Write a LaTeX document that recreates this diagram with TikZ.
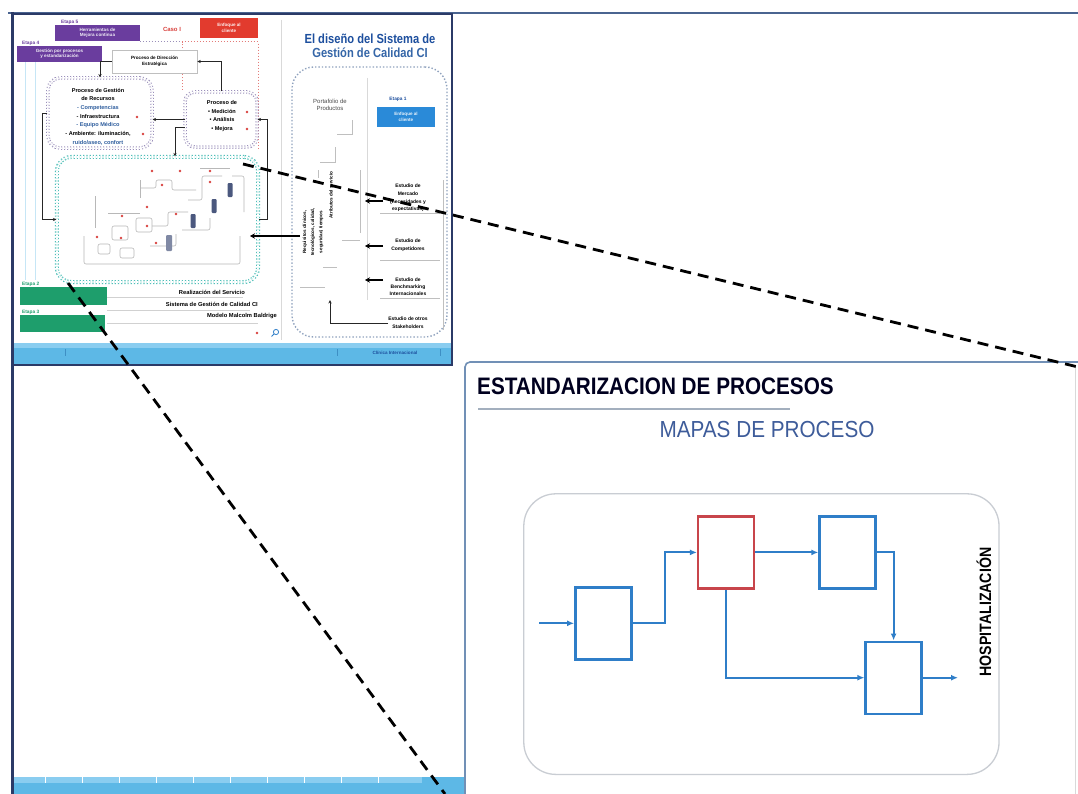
\documentclass[tikz,border=0pt]{standalone}
\usepackage{fontspec}
\setmainfont{Liberation Sans}
\usetikzlibrary{arrows.meta,calc}

\definecolor{navy}{HTML}{2B3A67}
\definecolor{slideline}{HTML}{4A6490}
\definecolor{purp}{HTML}{6A3D9E}
\definecolor{redbox}{HTML}{E23B2E}
\definecolor{grn}{HTML}{1E9E6C}
\definecolor{skyb}{HTML}{5DB8E6}
\definecolor{skyl}{HTML}{8ACDF0}
\definecolor{skyd}{HTML}{3E8FC4}
\definecolor{titleb}{HTML}{1D4F9E}
\definecolor{titleb2}{HTML}{3566A8}
\definecolor{blueb}{HTML}{2A8AD8}
\definecolor{itemb}{HTML}{2F5E9E}
\definecolor{tealdot}{HTML}{4DBFB8}
\definecolor{pgrey}{HTML}{9A8FBA}
\definecolor{dotgray}{HTML}{8FA2BE}
\definecolor{reddot}{HTML}{D9423E}
\definecolor{flowb}{HTML}{2F7EC8}
\definecolor{flowr}{HTML}{C8454B}
\definecolor{panelb}{HTML}{7190B6}
\definecolor{mapb}{HTML}{3E5C9A}
\definecolor{ruleg}{HTML}{A3AFBE}
\definecolor{roundg}{HTML}{C9CDD3}

\begin{document}
\begin{tikzpicture}[x=1bp,y=-1bp,
  tt/.style={font=\fontsize{4.6}{5.5}\selectfont\bfseries, inner sep=0pt, align=center},
  ts/.style={font=\fontsize{5.6}{8.7}\selectfont\bfseries, inner sep=0pt, align=center},
  lab/.style={font=\fontsize{4.8}{5.5}\selectfont\bfseries, inner sep=0pt},
  tharrow/.style={draw=black!85, line width=0.9bp, -{Stealth[length=3.5bp,width=3.2bp]}},
  bigarrow/.style={draw=black, line width=1.7bp, -{Stealth[length=5bp,width=5.5bp]}},
  rdot/.style={circle, fill=reddot, inner sep=0pt, minimum size=2.6bp},
  dblock/.style={fill=navy!85, rounded corners=1bp},
  fbox/.style={draw=flowb, line width=2.4bp, fill=white, minimum width=56bp, minimum height=72bp, inner sep=0pt},
  flow/.style={draw=flowb, line width=2.1bp, -{Latex[length=7bp,width=6bp]}},
  zoomline/.style={draw=black, line width=2.8bp, dash pattern=on 11bp off 7bp},
]
\useasboundingbox (0,0) rectangle (1078,794);
\fill[white] (0,0) rectangle (1078,794);

%--- slide frame and footer band
\draw[slideline, line width=1.4bp] (8,13) -- (1078,13);
\fill[skyb] (13.5,777) rectangle (465,794);
\fill[skyl] (13.5,777) rectangle (422,782.5);
\foreach \x in {45,82,...,380} \draw[white, line width=0.7bp] (\x,777) -- (\x,782.5);

%--- small slide: footer band
\fill[skyb] (13,343) rectangle (451,364);
\fill[skyl] (13,343) rectangle (451,347.5);
\foreach \x in {65,337,440} \draw[skyd, line width=0.6bp] (\x,349) -- (\x,356);
\node[tt, text=titleb] (clinica) at (395,353) {Clínica Internacional};
\draw[navy, line width=2bp] (12,14) rectangle (452,365);
\draw[navy, line width=3bp] (12,12) -- (12,794);

% faint guide lines of the small slide
\draw[skyb!35, line width=0.7bp] (25,62) -- (25,280) (35,62) -- (35,280);
\draw[black!15, line width=0.6bp] (281,20) -- (281,340);
\draw[black!18, line width=0.6bp] (107,297) -- (243,297) (107,310) -- (250,310) (107,323) -- (258,323);
\draw[pgrey, dotted, line width=1bp] (140,42) -- (182,42);
\draw[reddot!70, dotted, line width=1bp] (182,90) -- (182,42) -- (258,42) -- (258,150);

%--- stage boxes
\node[lab, text=purp, anchor=south west] (e5) at (61,25) {Etapa 5};
\node[tt, fill=purp, text=white!90!purp, minimum width=85bp, minimum height=16bp] (mejora) at (97.5,33) {Herramientas de\\Mejora continua};
\node[font=\fontsize{6}{7}\selectfont\bfseries, text=reddot, inner sep=0pt] (caso) at (172,29) {Caso I};
\node[tt, fill=redbox, text=white!92!redbox, minimum width=58bp, minimum height=20bp] (enfr) at (229,28) {Enfoque al\\cliente};
\node[lab, text=purp, anchor=south west] (e4) at (22,46) {Etapa 4};
\node[tt, fill=purp, text=white!90!purp, minimum width=85bp, minimum height=16bp] (gest) at (59.5,54) {Gestión por procesos\\y estandarización};
\node[lab, text=grn, anchor=south west] (e2) at (22,287) {Etapa 2};
\node[fill=grn, minimum width=87bp, minimum height=18bp, inner sep=0pt] (et2) at (63.5,296) {};
\node[lab, text=grn, anchor=south west] (e3) at (22,315) {Etapa 3};
\node[fill=grn, minimum width=85bp, minimum height=17bp, inner sep=0pt] (et3) at (62.5,323.5) {};

%--- process blocks of the quality system
\node[tt, draw=black!25, fill=white, line width=0.6bp, minimum width=85bp, minimum height=23bp] (direc) at (154.5,61.5) {Proceso de Dirección\\Estratégica};
\node[draw=pgrey, dotted, line width=1bp, double=white, double distance=1.5bp, rounded corners=12bp, minimum width=104bp, minimum height=70bp] (recur) at (100,113) {};
\node[ts] (recurtxt) at (98,116.5) {Proceso de Gestión\\de Recursos\\\textcolor{itemb}{- Competencias}\\- Infraestructura\\\textcolor{itemb}{- Equipo Médico}\\- Ambiente: iluminación,\\\textcolor{itemb}{ruido/aseo, confort}};
\node[rdot] (rd1) at (137,117) {};
\node[rdot] (rd2) at (143,134) {};
\node[draw=pgrey, dotted, line width=1bp, double=white, double distance=1.5bp, rounded corners=10bp, minimum width=72bp, minimum height=55bp] (med) at (221,119.5) {};
\node[ts] (medtxt) at (222,116) {Proceso de\\• Medición\\• Análisis\\• Mejora};
\node[rdot] (rd3) at (247,112) {};
\node[rdot] (rd4) at (247,129) {};
\node[draw=tealdot, dotted, line width=1.2bp, double=white, double distance=1.6bp, rounded corners=14bp, minimum width=201bp, minimum height=125bp] (green) at (157.5,219.5) {};

% service realisation map inside the teal frame
\begin{scope}[draw=black!28, line width=0.6bp, rounded corners=2bp]
  \draw (84,236) -- (84,264) -- (240,264) -- (240,236);
  \draw (95,196) -- (95,228);
  \draw (108,213) -- (140,213);
  \draw (112,226) rectangle (128,240);
  \draw (136,218) rectangle (152,232);
  \draw (152,226) -- (168,226) -- (168,212) -- (188,212);
  \draw (140,188) -- (156,188) -- (156,180) -- (172,180) -- (172,190) -- (196,190);
  \draw (140,180) -- (140,198);
  \draw (120,248) rectangle (134,258);
  \draw (98,244) rectangle (110,254);
  \draw (150,246) -- (176,246) -- (176,234);
  \draw (188,200) -- (202,200) -- (202,176) -- (222,176);
  \draw (232,176) -- (244,176) -- (244,212);
  \draw (182,230) -- (210,230) -- (210,218);
  \draw (200,168) -- (230,168);
\end{scope}
\foreach \p in {(152,171),(180,171),(210,171),(210,182),(162,185),(147,207),(122,216),(176,214),(147,226),(97,237),(121,238),(156,243)}
  \node[rdot] at \p {};
\fill[dblock] (227.5,183) rectangle (232.5,197);
\fill[dblock] (211.5,199) rectangle (216.5,213);
\fill[dblock] (190.5,214) rectangle (195.5,228);
\fill[dblock, fill=navy!60] (166,235) rectangle (172,251);

% labels under the teal frame
\node[ts, anchor=east, font=\fontsize{5.8}{6.5}\selectfont\bfseries] (realiz) at (245,292) {Realización del Servicio};
\node[ts, anchor=east, font=\fontsize{5.8}{6.5}\selectfont\bfseries] (sgc) at (258,304) {Sistema de Gestión de Calidad CI};
\node[ts, anchor=east, font=\fontsize{5.8}{6.5}\selectfont\bfseries] (malcolm) at (277,316) {Modelo Malcolm Baldrige};
\node[rdot] (rd5) at (257,333) {};
\draw[flowb, line width=0.8bp] (276,332) circle (2.6);
\draw[flowb, line width=1bp] (274,334) -- (271.5,336.5);

% connectors between the process blocks
\draw[tharrow] (med.north) |- (direc.east);
\draw[tharrow] (direc.west) -| (recur.north);
\draw[tharrow] (med.west) -- (med.west -| recur.east);
\draw[tharrow] ([yshift=-8bp]med.west) -| ([xshift=17.5bp]green.north);
\draw[tharrow] (green.east) -- ++(9,0) |- (med.east);
\draw[tharrow] (recur.west) -- ++(-5,0) |- (green.west);

%--- right column: product portfolio and studies
\node[inner sep=0pt, text=titleb, font=\fontsize{11.2}{13}\selectfont\bfseries] (title1) at (370,39) {\scalebox{1}[1.18]{El diseño del Sistema de}};
\node[inner sep=0pt, text=titleb2, font=\fontsize{11.2}{13}\selectfont\bfseries] (title2) at (370,53) {\scalebox{1}[1.18]{Gestión de Calidad CI}};
\node[draw=dotgray, dotted, line width=1.4bp, rounded corners=22bp, minimum width=155bp, minimum height=270bp] (rbox) at (369.5,202) {};
\draw[black!15, line width=0.6bp] (367,78) -- (367,300);
\node[font=\fontsize{6}{7}\selectfont, text=black!70, align=center, inner sep=0pt] (port) at (330,105) {Portafolio de\\Productos};
\node[lab, text=titleb] (e1) at (398,99) {Etapa 1};
\node[tt, fill=blueb, text=white!90!blueb, minimum width=58bp, minimum height=20bp] (enfb) at (406,117) {Enfoque al\\cliente};
\begin{scope}[draw=black!25, line width=0.6bp]
  \draw (352,120) -- (352,134) -- (337,134);
  \draw (335,147) -- (335,162) -- (320,162);
  \draw (360,170) -- (360,233) (342,240) -- (360,240);
  \draw (318,170) -- (318,178);
  \draw (323,267) -- (337,267);
  \draw (300,287) -- (325,287);
  \draw (380,213) -- (440,213) (380,260) -- (440,260) (380,298) -- (440,298);
  \draw (443,180) -- (443,330);
\end{scope}
\node[tt, rotate=90, font=\fontsize{4.6}{8.2}\selectfont\bfseries] (req) at (313,232) {Requisitos clínicos,\\tecnológicos, calidad,\\seguridad, tiempos};
\node[tt, rotate=90] (attr) at (331,195) {Atributos del servicio};
\node[tt, font=\fontsize{5}{7.6}\selectfont\bfseries] (merc) at (408,198) {Estudio de\\Mercado\\(necesidades y\\expectativas)};
\node[tt, font=\fontsize{5}{8.6}\selectfont\bfseries] (comp) at (408,245) {Estudio de\\Competidores};
\node[tt, font=\fontsize{5}{7.2}\selectfont\bfseries] (bench) at (408,287) {Estudio de\\Benchmarking\\Internacionales};
\node[tt, font=\fontsize{5}{8}\selectfont\bfseries] (stake) at (408,323) {Estudio de otros\\Stakeholders};
\coordinate (m1) at (383,201);  \coordinate (m1t) at (365,201);
\coordinate (m2) at (383,246);  \coordinate (m2t) at (365,246);
\coordinate (m3) at (383,280);  \coordinate (m3t) at (365,280);
\draw[bigarrow] (m1) -- (m1t);
\draw[bigarrow] (m2) -- (m2t);
\draw[bigarrow] (m3) -- (m3t);
\coordinate (pbot) at (330,300);
\draw[tharrow, line width=1bp] (stake.west) -| (pbot);
\coordinate (gout) at (300,236);
\coordinate (gin) at (250,236);
\draw[bigarrow] (gout) -- (gin);

%--- enlarged panel: process standardisation
\fill[white] (465,362) rectangle (1078,794);
\draw[panelb, line width=1.6bp, rounded corners=5bp] (465,794) -- (465,362) -- (1084,362);
\draw[black!15, line width=0.8bp] (1075.5,366) -- (1075.5,794);
\node[anchor=west, inner sep=0pt, text=black!88!blue, font=\fontsize{20.8}{22}\selectfont\bfseries] (std) at (477,386) {\scalebox{1}[1.15]{ESTANDARIZACION DE PROCESOS}};
\draw[ruleg, line width=2bp] (478,409) -- (790,409);
\node[inner sep=0pt, text=mapb, font=\fontsize{20.8}{22}\selectfont] (mapas) at (767,430) {\scalebox{1}[1.12]{MAPAS DE PROCESO}};
\draw[roundg, line width=1.3bp, rounded corners=32bp] (523.8,493.8) rectangle (999,774.4);

% process map
\node[fbox] (b1) at (603.3,623.3) {};
\node[fbox, draw=flowr] (b2) at (726.1,552.4) {};
\node[fbox] (b3) at (847.5,552.4) {};
\node[fbox] (b4) at (893.6,677.7) {};
\coordinate (in) at (539,623.3);
\coordinate (out) at (958,677.7);
\draw[flow] (in) -- (b1.west);
\draw[flow] (b1.east) -| ($(b1.east)!.5!(b2.west)$) |- (b2.west);
\draw[flow] (b2.east) -- (b3.west);
\draw[flow] (b3.east) -| (b4.north);
\draw[flow] (b2.south) |- (b4.west);
\draw[flow] (b4.east) -- (out);
\node[rotate=90, inner sep=0pt, font=\fontsize{16.5}{18}\selectfont\bfseries] (hosp) at (984,612) {\scalebox{0.86}[1]{HOSPITALIZACIÓN}};

%--- zoom guide lines
\coordinate (z1a) at (243,164);
\coordinate (z1b) at (1078,367);
\coordinate (z2a) at (68,283);
\coordinate (z2b) at (445,794);
\draw[zoomline] (z1a) -- (z1b);
\draw[zoomline] (z2a) -- (z2b);
\end{tikzpicture}
\end{document}
